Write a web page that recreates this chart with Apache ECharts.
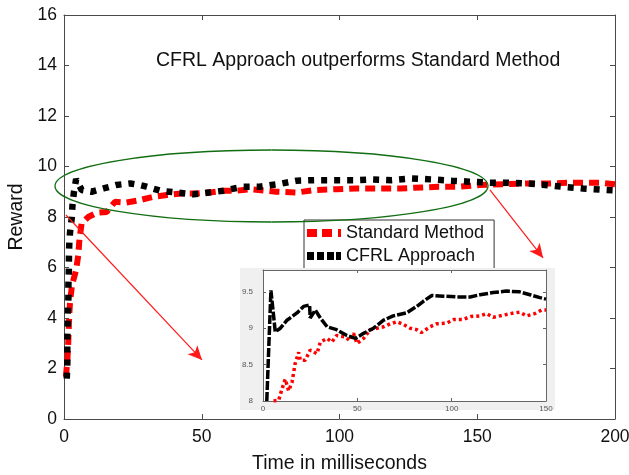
<!DOCTYPE html>
<html><head><meta charset="utf-8">
<script src="https://cdn.jsdelivr.net/npm/echarts@6/dist/echarts.min.js"></script>
<style>html,body{margin:0;padding:0;background:#fff}#c{width:629px;height:475px}</style>
</head><body><div id="c"></div>
<script>
// ---- main chart data ----
const stdTime = [0.7,1.2,1.5,1.7,1.9,2.2,2.9,4.4,5.2,5.6,6.4,8.8,11.9,15.5,18.5,22.5,27.6,32.4,37.3,42.7,48,53.6,58,62.7,67.5,77,84.5,91,99,106,113,122,130,136,143.7,151,159.5,168,176.4,185,194.5,200];
const stdReward = [1.67,2.3,2.9,3.5,4.1,4.65,5.3,5.9,6.5,7.1,7.75,8.0,8.17,8.2,8.6,8.57,8.67,8.8,8.87,8.93,8.93,8.98,9.04,9.04,9.1,9.0,8.97,9.07,9.1,9.13,9.13,9.13,9.17,9.2,9.2,9.27,9.3,9.33,9.33,9.36,9.36,9.3];
const cfrlTime = [1.0,1.2,1.2,1.2,1.35,1.4,1.6,1.6,1.75,1.8,1.9,2.2,2.8,3.1,3.6,4.4,6.4,10,14.3,19,24,27.4,30,35,40,47,51,57.8,65,71,77.7,84.5,91,99,105.6,112,119,126,133,140.7,147,154.6,161,168,174.6,181,188.4,196.4,200];
const cfrlReward = [1.6,2.2,2.7,3.2,3.7,4.2,4.8,5.3,5.8,6.4,6.9,7.4,7.95,8.5,8.98,9.5,9.07,9.0,9.13,9.27,9.33,9.27,9.2,9.04,8.98,8.9,8.95,9.04,9.2,9.2,9.3,9.44,9.46,9.46,9.46,9.49,9.46,9.53,9.49,9.44,9.4,9.36,9.36,9.33,9.27,9.2,9.13,9.07,9.05];
// ---- inset (zoomed) data ----
const inCfrlTime = [2,4.2,6.5,9.2,12.7,18,21.5,24.7,25,27.7,30.4,34,39,44.5,49,53.3,58.6,63.9,69,76,81.5,85,89.5,95.6,102.7,109.8,115,122,129,136,141.5,146.8,150];
const inCfrlReward = [8.0,9.52,8.95,9.0,9.11,9.21,9.3,9.32,9.14,9.25,9.14,9.02,8.98,8.9,8.86,8.93,9.0,9.11,9.17,9.21,9.3,9.37,9.45,9.44,9.43,9.43,9.46,9.49,9.51,9.5,9.46,9.42,9.4];
const inStdTime = [5.6,8.3,10,11.8,13.6,15.4,17,18.9,19.8,22.4,25,28.6,30.4,34,36.5,39,43.6,46,48,49.8,53.3,56.8,60.4,64,67.4,71,74.5,78,81.5,84,88.6,92,97.4,101,106,110,115,118.6,122,127.4,133,136,139.8,144,147.7,150];
const inStdReward = [8.0,8.01,8.16,8.3,8.14,8.26,8.51,8.67,8.56,8.56,8.7,8.65,8.81,8.86,8.81,8.9,8.88,8.83,8.93,8.79,8.86,8.98,9.0,9.02,9.06,9.09,9.05,9.0,8.98,8.94,9.02,9.06,9.07,9.12,9.12,9.16,9.17,9.2,9.15,9.18,9.21,9.22,9.17,9.2,9.25,9.25];
// ---- ticks / labels ----
const mainXTicks = {min:0, max:200, interval:50};
const mainYTicks = {min:0, max:16, interval:2};
const insetXTicks = {min:0, max:150, interval:50};
const insetYTicks = {min:8, max:9.8, interval:0.5};
const titleText = 'CFRL Approach outperforms Standard Method';
const names = ['Standard Method','CFRL Approach'];
// annotation arrows in data coordinates (main axes)
const arrow1 = [[0.7,8.08],[50.1,2.34]];
const arrow2 = [[154.6,9.07],[173.9,6.38]];

const zip = (a,b)=>a.map((x,i)=>[x,b[i]]);
const FONT = 'Liberation Sans, Arial, Helvetica, sans-serif';
const AX = '#4a4a4a';

// highlight ellipse (annotation, pixel geometry) drawn as 4 cubic bezier quarters
const E = {cx:271.5, cy:186, rx:216.5, ry:36, k:0.5523};
function ellipseQuarters(e){
  const q = [[1,0,0,-1],[0,-1,-1,0],[-1,0,0,1],[0,1,1,0]];
  return q.map(([ax,ay,bx,by])=>({type:'bezierCurve', z:10,
    shape:{x1:e.cx+ax*e.rx, y1:e.cy+ay*e.ry, x2:e.cx+bx*e.rx, y2:e.cy+by*e.ry,
      cpx1:e.cx+ax*e.rx+bx*e.k*e.rx, cpy1:e.cy+ay*e.ry+by*e.k*e.ry,
      cpx2:e.cx+bx*e.rx+ax*e.k*e.rx, cpy2:e.cy+by*e.ry+ay*e.k*e.ry},
    style:{fill:'none', stroke:'#126e12', lineWidth:1.3}}));
}

const chart = echarts.init(document.getElementById('c'), null, {renderer:'canvas'});
function mainAxisX(pos, labels){return {type:'value', gridIndex:0, position:pos, ...mainXTicks,
  name: labels ? 'Time in milliseconds' : '', nameLocation:'middle', nameGap:35,
  nameTextStyle:{fontSize:19.5, color:'#111', fontFamily:FONT},
  axisLine:{show:true, onZero:false, lineStyle:{color:AX, width:1}},
  axisTick:{show:true, inside:true, length:5, lineStyle:{color:AX}},
  axisLabel:{show:labels, fontSize:17.5, color:'#111', fontFamily:FONT, margin:9},
  splitLine:{show:false}};}
function mainAxisY(pos, labels){return {type:'value', gridIndex:0, position:pos, ...mainYTicks,
  name: labels ? 'Reward' : '', nameLocation:'middle', nameGap:36,
  nameTextStyle:{fontSize:19.5, color:'#111', fontFamily:FONT},
  axisLine:{show:true, onZero:false, lineStyle:{color:AX, width:1}},
  axisTick:{show:true, inside:true, length:5, lineStyle:{color:AX}},
  axisLabel:{show:labels, fontSize:17.5, color:'#111', fontFamily:FONT, margin:7},
  splitLine:{show:false}};}
function insetAxisX(pos, labels){return {type:'value', gridIndex:1, position:pos, ...insetXTicks, zlevel:1,
  axisLine:{show:true, onZero:false, lineStyle:{color:'#666', width:1}},
  axisTick:{show:true, inside:true, length:3, lineStyle:{color:'#666'}},
  axisLabel:{show:labels, fontSize:8, color:'#555', fontFamily:FONT, margin:4},
  splitLine:{show:false}};}
function insetAxisY(pos, labels){return {type:'value', gridIndex:1, position:pos, ...insetYTicks, zlevel:1,
  axisLine:{show:true, onZero:false, lineStyle:{color:'#666', width:1}},
  axisTick:{show:true, inside:true, length:3, lineStyle:{color:'#666'}},
  axisLabel:{show:labels, fontSize:8, color:'#555', fontFamily:FONT, margin:10, showMaxLabel:false},
  splitLine:{show:false}};}

const option = {
  animation:false,
  backgroundColor:'#fff',
  title:{text:titleText, left:151, top:46, textStyle:{fontSize:19.5, fontWeight:'normal', color:'#111', fontFamily:FONT}},
  legend:{orient:'vertical', left:304, top:220, itemWidth:34, itemHeight:8, itemGap:5,
    data:[
      {name:names[0], icon:'path://M0,0h10v8h-10z M15,0h10v8h-10z M31,0h3v8h-3z'},
      {name:names[1], icon:'path://M0,0h7v8h-7z M10,0h7v8h-7z M20,0h7v8h-7z M29,0h5v8h-5z'}
    ],
    padding:[4,10,8,3], borderColor:'#333', borderWidth:1, backgroundColor:'#fff',
    textStyle:{fontSize:18, color:'#111', fontFamily:FONT}},
  grid:[
    {left:64, right:14, top:15, bottom:56, containLabel:false, outerBoundsMode:'none'},
    {left:263, right:83, top:270, bottom:74, containLabel:false, outerBoundsMode:'none', show:true, backgroundColor:'#fff', borderWidth:0, zlevel:1}
  ],
  graphic:[
    {type:'rect', zlevel:1, z:-10, shape:{x:240, y:268, width:315, height:142}, style:{fill:'#f0f0f0'}}
  ].concat(ellipseQuarters(E)),
  xAxis:[mainAxisX('bottom',true), mainAxisX('top',false), insetAxisX('bottom',true), insetAxisX('top',false)],
  yAxis:[mainAxisY('left',true), mainAxisY('right',false), insetAxisY('left',true), insetAxisY('right',false)],
  series:[
    {name:names[0], type:'line', xAxisIndex:0, yAxisIndex:0, data:zip(stdTime,stdReward), showSymbol:false, symbol:'none',
      lineStyle:{color:'#ff0000', width:6, type:[10,6]}, itemStyle:{color:'#ff0000'}, z:3,
      markLine:{silent:true, symbol:['none','arrow'], symbolSize:[10,14], label:{show:false},
        lineStyle:{color:'#ff1a1a', width:1.2, type:'solid'},
        data:[[{coord:arrow1[0]},{coord:arrow1[1]}],[{coord:arrow2[0]},{coord:arrow2[1]}]]}},
    {name:names[1], type:'line', xAxisIndex:0, yAxisIndex:0, data:zip(cfrlTime,cfrlReward), showSymbol:false, symbol:'none',
      lineStyle:{color:'#000', width:6.5, type:[6,7]}, itemStyle:{color:'#000'}, z:4},
    {name:'inset-std', type:'line', xAxisIndex:2, yAxisIndex:2, data:zip(inStdTime,inStdReward), symbol:'none', zlevel:1,
      lineStyle:{color:'#ff0000', width:3.5, type:[3,3]}, itemStyle:{color:'#ff0000'}},
    {name:'inset-cfrl', type:'line', xAxisIndex:2, yAxisIndex:2, data:zip(inCfrlTime,inCfrlReward), symbol:'none', zlevel:1,
      lineStyle:{color:'#000', width:3.5, type:[9,2]}, itemStyle:{color:'#000'}}
  ]
};
chart.setOption(option);
</script></body></html>
